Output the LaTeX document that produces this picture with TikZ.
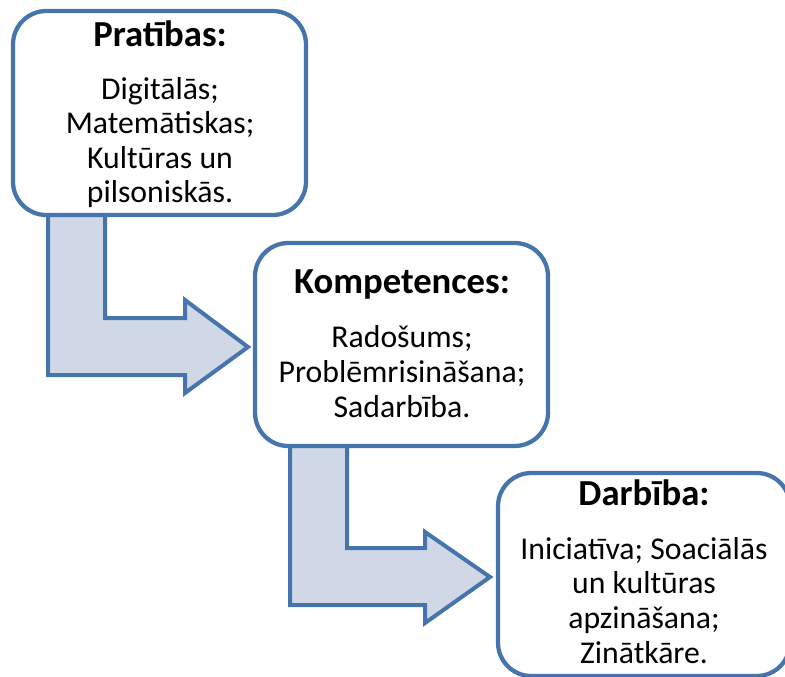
\documentclass[tikz,border=0pt]{standalone}
\usepackage{fontspec}
\setmainfont{Carlito}
\usetikzlibrary{fit}
\definecolor{edge}{HTML}{4674AC}
\definecolor{pale}{HTML}{D0D8E8}

\begin{document}
\begin{tikzpicture}[x=0.75pt,y=-0.75pt,
  card/.style={draw=edge, line width=3.2pt, fill=white, rounded corners=25pt, inner sep=0pt},
  blockarrow/.style={draw=edge, line width=3pt, fill=pale, line join=miter},
  head/.style={font=\fontsize{27.5}{32}\selectfont\bfseries, anchor=base, inner sep=0pt},
  body/.style={font=\fontsize{23.8}{25.9}\selectfont, anchor=base, align=center, inner sep=0pt}]
\useasboundingbox (0,0) rectangle (785,677);

% bent block arrows (drawn first, boxes sit on top of their tails)
\draw[blockarrow] (48,200) -- (105,200) -- (105,318) -- (185,318) -- (185,300)
  -- (248,347) -- (185,393) -- (185,375) -- (48,375) -- cycle;
\draw[blockarrow] (290,430) -- (347,430) -- (347,548) -- (425,548) -- (425,532)
  -- (490,577) -- (425,623) -- (425,605) -- (290,605) -- cycle;

% rounded boxes
\node[card, fit={(13,11) (306,215)}] (b1) {};
\node[card, fit={(255,243) (548,446)}] (b2) {};
\node[card, fit={(498,473) (790,676)}] (b3) {};

% texts (body nodes are placed by the baseline of their last line)
\node[head] (t1) at (160,47) {Pratības:};
\node[body] (l1) at (160,203) {Digitālās;\\Matemātiskas;\\Kultūras un\\pilsoniskās.};

\node[head] (t2) at (402,293) {Kompetences:};
\node[body] (l2) at (402,417) {Radošums;\\Problēmrisināšana;\\Sadarbība.};

\node[head] (t3) at (644,505) {Darbība:};
\node[body] (l3) at (644,663) {Iniciatīva; Soaciālās\\un kultūras\\apzināšana;\\Zinātkāre.};
\end{tikzpicture}
\end{document}
